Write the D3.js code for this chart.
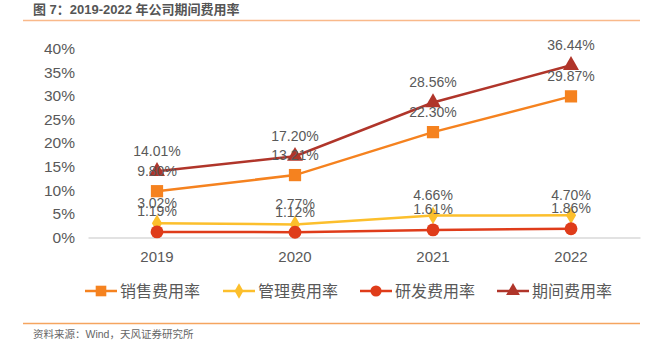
<!DOCTYPE html>
<html>
<head>
<meta charset="utf-8">
<script src="https://cdn.jsdelivr.net/npm/d3@7"></script>
<style>
  body { margin: 0; background: #fff; }
  text { font-family: "Liberation Sans", "Noto Sans CJK SC", sans-serif; }
</style>
</head>
<body>
<div id="chart"></div>
<script>
/* DATA */
const years = ["2019", "2020", "2021", "2022"];
const sales = [9.80, 13.21, 22.30, 29.87];      // 销售费用率
const admin = [3.02, 2.77, 4.66, 4.70];         // 管理费用率
const rnd = [1.19, 1.12, 1.61, 1.86];           // 研发费用率
const period = [14.01, 17.20, 28.56, 36.44];    // 期间费用率
const yTicks = [0, 5, 10, 15, 20, 25, 30, 35, 40];

const width = 662, height = 353;
const margin = { top: 48.5, bottom: 115.5, left: 88, right: 22 };

const series = [
  { name: "销售费用率", values: sales, color: "#F5821F", symbol: d3.symbolSquare, size: 150 },
  { name: "管理费用率", values: admin, color: "#FCBF2C", symbol: d3.symbolDiamond, size: 90 },
  { name: "研发费用率", values: rnd, color: "#DF3C1A", symbol: d3.symbolCircle, size: 130 },
  { name: "期间费用率", values: period, color: "#B0352A", symbol: d3.symbolTriangle, size: 110 }
];

const svg = d3.select("#chart").append("svg")
  .attr("width", width)
  .attr("height", height);

// title + rules
svg.append("text")
  .attr("x", 33).attr("y", 14)
  .attr("font-size", 13).attr("font-weight", "bold")
  .attr("fill", "#555")
  .text("图 7：2019-2022 年公司期间费用率");
svg.append("line").attr("x1", 23).attr("x2", 640).attr("y1", 20.5).attr("y2", 20.5)
  .attr("stroke", "#F9B98A").attr("stroke-width", 1.5);
svg.append("line").attr("x1", 23).attr("x2", 640).attr("y1", 323.5).attr("y2", 323.5)
  .attr("stroke", "#F5A55F").attr("stroke-width", 1.5);
svg.append("text")
  .attr("x", 33).attr("y", 338)
  .attr("font-size", 10.5).attr("fill", "#666")
  .text("资料来源：Wind，天风证券研究所");

// scales
const xScale = d3.scaleBand()
  .domain(years)
  .range([margin.left, width - margin.right]);
const yScale = d3.scaleLinear()
  .domain([0, 40])
  .range([height - margin.bottom, margin.top]);

// y axis
const yAxis = d3.axisLeft(yScale).tickValues(yTicks).tickFormat(d => d + "%").tickSize(0).tickPadding(0);
const gy = svg.append("g")
  .attr("transform", `translate(75,0)`)
  .call(yAxis);
gy.select(".domain").remove();
gy.selectAll("text").attr("font-size", 15.5).attr("fill", "#595959");

// x axis
const xAxis = d3.axisBottom(xScale).tickSize(0).tickPadding(14);
const gx = svg.append("g")
  .attr("transform", `translate(0,${yScale(0)})`)
  .call(xAxis);
gx.select(".domain").attr("stroke", "#D9D9D9").attr("stroke-width", 1.5);
gx.selectAll("text").attr("font-size", 15).attr("fill", "#595959");

const cx = d => xScale(d) + xScale.bandwidth() / 2;

const line = d3.line()
  .x((d, i) => cx(years[i]))
  .y(d => yScale(d));

// lines
svg.selectAll("path.line")
  .data(series)
  .join("path")
  .attr("class", "line")
  .attr("fill", "none")
  .attr("stroke", d => d.color)
  .attr("stroke-width", 2.5)
  .attr("d", d => line(d.values));

// markers
series.forEach(s => {
  svg.selectAll(null)
    .data(s.values)
    .join("path")
    .attr("transform", (d, i) => `translate(${cx(years[i])},${yScale(d)})`)
    .attr("d", d3.symbol().type(s.symbol).size(s.size))
    .attr("fill", s.color);
});

// value labels
series.forEach(s => {
  svg.selectAll(null)
    .data(s.values)
    .join("text")
    .attr("x", (d, i) => cx(years[i]))
    .attr("y", d => yScale(d) - 15.5)
    .attr("text-anchor", "middle")
    .attr("font-size", 14)
    .attr("fill", "#595959")
    .text(d => d.toFixed(2) + "%");
});

// legend
const legendX = [85, 223, 360, 497];
const legend = svg.selectAll("g.legend")
  .data(series)
  .join("g")
  .attr("class", "legend")
  .attr("transform", (d, i) => `translate(${legendX[i]},291)`);
legend.append("line")
  .attr("x1", 0).attr("x2", 32)
  .attr("stroke", d => d.color).attr("stroke-width", 2.5);
legend.append("path")
  .attr("transform", "translate(16,0)")
  .attr("d", d => d3.symbol().type(d.symbol).size(d.size * 0.75)())
  .attr("fill", d => d.color);
legend.append("text")
  .attr("x", 35).attr("y", 6)
  .attr("font-size", 16).attr("fill", "#595959")
  .text(d => d.name);
</script>
</body>
</html>
